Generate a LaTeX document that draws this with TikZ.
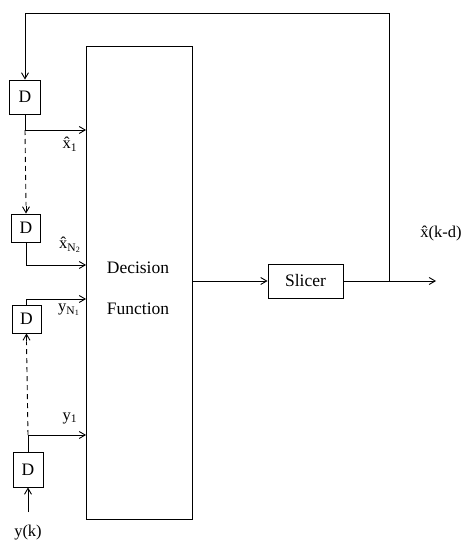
\documentclass[tikz,border=0pt]{standalone}
\usepackage{fontspec}
\setmainfont{Liberation Serif}
\usetikzlibrary{arrows.meta,calc}
\begin{document}
\begin{tikzpicture}[x=1pt,y=-1pt, line width=0.9pt,
  every node/.style={font=\fontsize{16.5}{19}\selectfont},
  big/.style={font=\fontsize{17.5}{20}\selectfont},
  box/.style={draw, inner sep=0pt, big},
  arr/.style={-{Straight Barb[length=6pt,width=7pt]}},
  dsh/.style={dash pattern=on 5pt off 4pt},
  lbl/.style={inner sep=0pt}]
\useasboundingbox (0,0) rectangle (464,551);
% delay boxes
\node[box, minimum width=31pt, minimum height=34pt] (d1) at (25,97) {D};
\node[box, minimum width=29pt, minimum height=28pt] (d2) at (26,228) {D};
\node[box, minimum width=29pt, minimum height=28pt] (d3) at (26.5,319) {D};
\node[box, minimum width=30pt, minimum height=35pt] (d4) at (28,469.5) {D};
% decision function
\node[box, minimum width=106pt, minimum height=473pt] (dec) at (139.5,282.5) {};
\node[big] (t1) at (138,268) {Decision};
\node[big] (t2) at (138,309) {Function};
% slicer
\node[box, minimum width=75pt, minimum height=34pt] (sl) at (305.5,281) {Slicer};
% helper coordinates
\coordinate (a1) at (0,130);
\coordinate (a2) at (0,265);
\coordinate (a3) at (0,299);
\coordinate (a4) at (0,435);
\coordinate (fb) at (389,281);
\coordinate (tr) at (389,13);
\coordinate (tl) at (25,13);
\coordinate (out) at (436,281);
\coordinate (yin) at (28,512);
% connectors
\draw[arr] (sl.east) -- (out);
\draw[arr] (fb) -- (tr) -- (tl) -- (d1.north);
\draw[arr] (dec.east |- sl) -- (sl.west);
\draw[arr] (d1.south) |- (dec.west |- a1);
\draw[dsh] (d1.south |- a1) -- ($(d2.north)+(0,-8)$) coordinate (d2in);
\draw[arr] (d2in) -- (d2.north);
\draw[arr] (d2.south) |- (dec.west |- a2);
\draw[arr] (d3.north) |- (dec.west |- a3);
\draw[dsh] (d4.north |- a4) -- ($(d3.south)+(0,8)$) coordinate (d3in);
\draw[arr] (d3in) -- (d3.south);
\draw[arr] (d4.north) |- (dec.west |- a4);
\draw[arr] (yin) -- (d4.south);
% labels
\node[lbl] (l1) at (70,144) {x̂\textsubscript{1}};
\node[lbl] (l2) at (70,245) {x̂\textsubscript{N\textsubscript{2}}};
\node[lbl] (l3) at (69,310) {y\textsubscript{N\textsubscript{1}}};
\node[lbl] (l4) at (70,418) {y\textsubscript{1}};
\node (yk) at (28,533) {y(k)};
\node (xo) at (441,234) {x̂(k-d)};
\end{tikzpicture}
\end{document}
